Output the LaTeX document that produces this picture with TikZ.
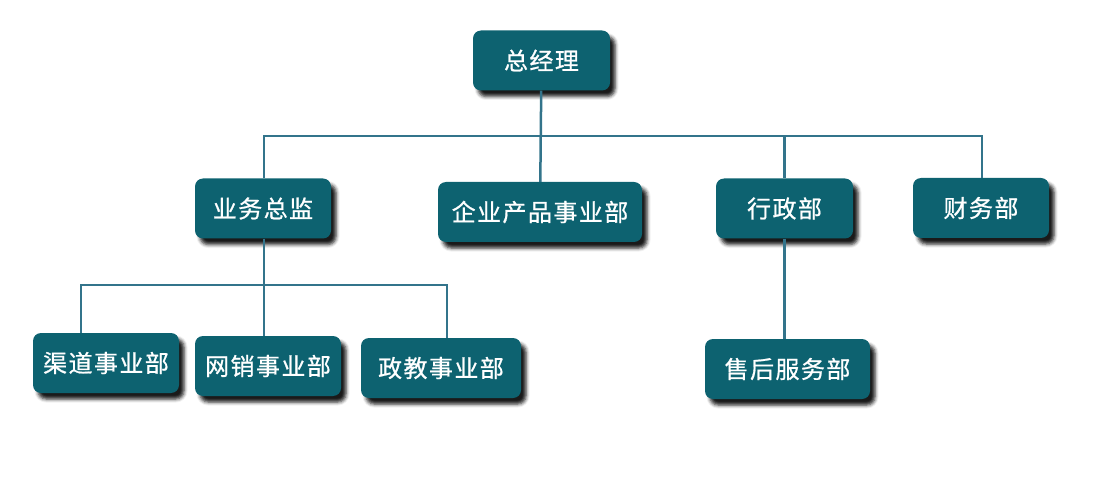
\documentclass[tikz,border=0pt]{standalone}
\usepackage{fontspec}
\newfontfamily\cjk[LetterSpace=6, FakeBold=0.8]{Noto Sans CJK SC}
\usepackage{tikz}
\usetikzlibrary{shadows.blur}

\definecolor{boxteal}{HTML}{0D6270}
\definecolor{lineteal}{HTML}{33748B}

\tikzset{
  dept/.style = {draw = none, fill = boxteal, rounded corners = 8pt,
    minimum height = 60pt, text = white,
    font = \cjk\fontsize{24}{24}\selectfont,
    blur shadow = {shadow xshift = 5pt, shadow yshift = -6pt,
      shadow blur radius = 3.5pt, shadow opacity = 90}},
  link/.style = {draw = lineteal, line width = 2.5pt}
}

\begin{document}
\begin{tikzpicture} [x = 1pt, y = -1pt]

\useasboundingbox (0,0) rectangle (1100,486);

\node (boss)  [dept, minimum width = 137pt] at (541.5, 60.5) {总经理};
\node (sales) [dept, minimum width = 136pt] at (263, 208.5) {业务总监};
\node (prod)  [dept, minimum width = 204pt] at (540, 212)   {企业产品事业部};
\node (admin) [dept, minimum width = 137pt] at (784.5, 208.5) {行政部};
\node (fin)   [dept, minimum width = 136pt] at (981, 208)   {财务部};

\node (chan)  [dept, minimum width = 146pt] at (106, 363)   {渠道事业部};
\node (web)   [dept, minimum width = 146pt] at (268, 366)   {网销事业部};
\node (gov)   [dept, minimum width = 160pt] at (441, 368)   {政教事业部};
\node (serv)  [dept, minimum width = 165pt] at (787.5, 369) {售后服务部};

\coordinate (busL) at (264, 136);
\coordinate (busR) at (982, 136);
\coordinate (subL) at (81, 285);
\coordinate (subR) at (447, 285);

% first level
\path [link]
    (boss) edge (prod);
\draw [link] (busL |- sales.north) -- (busL) -- (busR) -- (busR |- fin.north);
\draw [link] (admin.north |- busL) -- (admin.north);

% second level
\draw [link] (busL |- sales.south) -- (busL |- web.north);
\draw [link] (subL |- chan.north) -- (subL) -- (subR) -- (subR |- gov.north);
\draw [link] (admin.south) -- (admin.south |- serv.north);

\end{tikzpicture}
\end{document}
